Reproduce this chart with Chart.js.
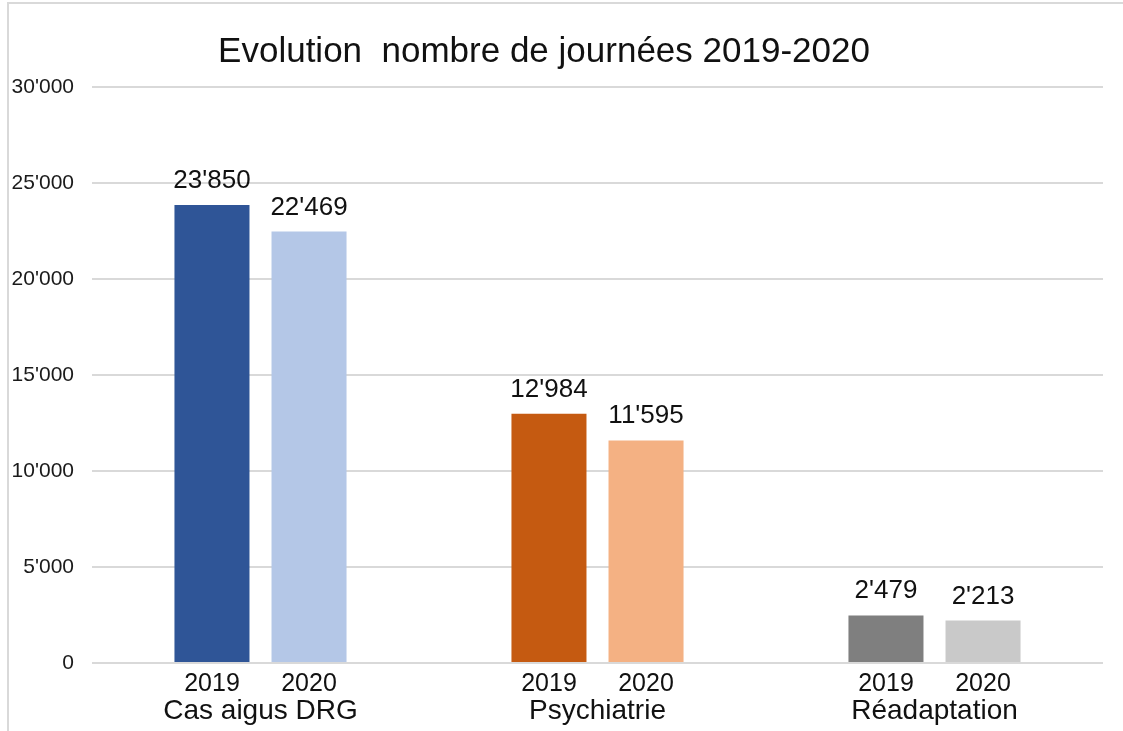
<!DOCTYPE html>
<html>
<head>
<meta charset="utf-8">
<script src="https://cdn.jsdelivr.net/npm/chart.js@4/dist/chart.umd.min.js"></script>
<style>
  html, body { margin: 0; padding: 0; background: #fff; }
  #wrap { width: 1123px; height: 731px; }
</style>
</head>
<body>
<div id="wrap"><canvas id="chart" width="1123" height="731"></canvas></div>
<script>
// Journées par type de cas
const groups = ['Cas aigus DRG', 'Psychiatrie', 'Réadaptation'];
const years = ['2019', '2020'];
const values2019 = [23850, 12984, 2479];
const values2020 = [22469, 11595, 2213];
const colors2019 = ['#2F5597', '#C55A11', '#7F7F7F'];
const colors2020 = ['#B4C7E7', '#F4B183', '#C9C9C9'];
const yTicks = [0, 5000, 10000, 15000, 20000, 25000, 30000];

const FONT = '"Liberation Sans", Arial, sans-serif';

function fmt(v) {
  return String(v).replace(/\B(?=(\d{3})+(?!\d))/g, "'");
}

// titre, étiquettes, cadre
const decor = {
  id: 'decor',
  beforeDraw(chart) {
    const c = chart.ctx;
    c.save();
    c.fillStyle = '#fff';
    c.fillRect(0, 0, chart.width, chart.height);
    c.strokeStyle = '#d9d9d9';
    c.lineWidth = 2;
    c.beginPath();
    c.moveTo(8, chart.height);
    c.lineTo(8, 3);
    c.lineTo(chart.width, 3);
    c.stroke();
    c.restore();
  },
  afterDraw(chart) {
    const c = chart.ctx;
    c.save();
    c.fillStyle = '#111';
    c.textAlign = 'center';
    c.font = '35px ' + FONT;
    c.textBaseline = 'middle';
    c.fillText('Evolution  nombre de journées 2019-2020', 544, 52);

    chart.data.datasets.forEach((ds, i) => {
      const meta = chart.getDatasetMeta(i);
      meta.data.forEach((bar, j) => {
        c.font = '26px ' + FONT;
        c.textBaseline = 'alphabetic';
        c.fillText(fmt(ds.data[j]), bar.x, bar.y - 17);
        c.font = '25px ' + FONT;
        c.textBaseline = 'middle';
        c.fillText(years[i], bar.x, 684);
      });
    });

    const m0 = chart.getDatasetMeta(0), m1 = chart.getDatasetMeta(1);
    c.font = '28px ' + FONT;
    groups.forEach((g, j) => {
      const x = (m0.data[j].x + m1.data[j].x) / 2;
      c.fillText(g, x, 711);
    });
    c.restore();
  }
};

new Chart(document.getElementById('chart'), {
  type: 'bar',
  data: {
    labels: groups,
    datasets: [
      { label: years[0], data: values2019, backgroundColor: colors2019 },
      { label: years[1], data: values2020, backgroundColor: colors2020 }
    ]
  },
  options: {
    responsive: false,
    animation: false,
    categoryPercentage: 0.576,
    barPercentage: 0.773,
    layout: { padding: { top: 87, bottom: 68, right: 20, left: 0 } },
    plugins: {
      legend: { display: false },
      tooltip: { enabled: false },
      title: { display: false }
    },
    scales: {
      x: { display: false },
      y: {
        min: 0,
        max: 30000,
        afterFit(axis) { axis.width = 92; },
        afterBuildTicks(axis) { axis.ticks = yTicks.map(v => ({ value: v })); },
        border: { display: false },
        grid: { color: '#d9d9d9', lineWidth: 2, drawTicks: false },
        ticks: {
          padding: 18,
          color: '#1a1a1a',
          font: { family: FONT, size: 21 },
          callback: v => fmt(v)
        }
      }
    }
  },
  plugins: [decor]
});
</script>
</body>
</html>
